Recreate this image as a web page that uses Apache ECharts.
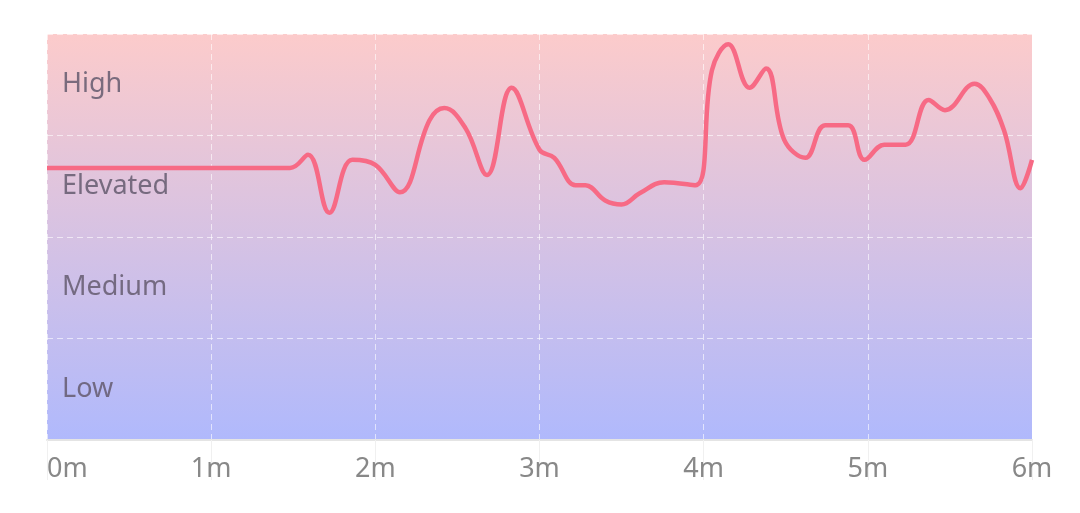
<!DOCTYPE html>
<html>
<head>
<meta charset="utf-8">
<script src="https://cdn.jsdelivr.net/npm/echarts@6/dist/echarts.min.js"></script>
<style>html,body{margin:0;background:#fff}#main{width:1080px;height:513px}</style>
</head>
<body>
<div id="main"></div>
<script>
// levels shown on the left, bottom to top
var levels = ['Low', 'Medium', 'Elevated', 'High'];
var xTicks = ['0m', '1m', '2m', '3m', '4m', '5m', '6m'];
// time in minutes
var minutes = [0, 1.48, 1.59, 1.72, 1.86, 2.00, 2.15, 2.33, 2.42, 2.55, 2.68, 2.83, 3.00, 3.09, 3.22, 3.28, 3.40, 3.50, 3.61, 3.76, 3.95, 4.05, 4.15, 4.28, 4.38, 4.49, 4.62, 4.74, 4.88, 4.98, 5.10, 5.23, 5.37, 5.47, 5.65, 5.74, 5.83, 5.93, 6.00];
// stress level (0..4)
var level = [2.68, 2.68, 2.81, 2.24, 2.76, 2.71, 2.44, 3.15, 3.27, 3.07, 2.61, 3.47, 2.86, 2.78, 2.51, 2.51, 2.36, 2.32, 2.43, 2.54, 2.51, 3.64, 3.90, 3.47, 3.66, 2.96, 2.78, 3.10, 3.10, 2.76, 2.91, 2.91, 3.35, 3.25, 3.51, 3.37, 3.05, 2.48, 2.76];

var points = [];
for (var i = 0; i < minutes.length; i++) points.push([minutes[i], level[i]]);

var myChart = echarts.init(document.getElementById('main'));
var option = {
    animation: false,
    grid: {
        left: 47, right: 48, top: 34, bottom: 73,
        show: true, borderWidth: 0,
        backgroundColor: new echarts.graphic.LinearGradient(0, 0, 0, 1, [
            {offset: 0, color: '#fccbcb'},
            {offset: 1, color: '#b0b9fc'}
        ])
    },
    xAxis: {
        type: 'value', min: 0, max: 6, interval: 1,
        axisLine: {show: true, lineStyle: {color: '#e4e4e4', width: 2}},
        axisTick: {show: true, length: 40, lineStyle: {color: '#f0f0f0'}},
        axisLabel: {
            color: '#888', fontSize: 27, margin: 16, fontFamily: 'Noto Sans',
            alignMinLabel: 'left',
            formatter: function (v) { return xTicks[v]; }
        },
        splitLine: {show: true, lineStyle: {color: 'rgba(255,255,255,0.6)', type: [6, 4]}}
    },
    yAxis: [{
        type: 'value', min: 0, max: 4, interval: 1,
        axisLine: {show: false}, axisTick: {show: false}, axisLabel: {show: false},
        splitLine: {show: true, lineStyle: {color: 'rgba(255,255,255,0.6)', type: [6, 4]}}
    }, {
        type: 'category', data: levels, position: 'left', boundaryGap: true,
        axisLine: {show: false}, axisTick: {show: false}, splitLine: {show: false},
        axisLabel: {inside: true, margin: 15, color: 'rgba(100,90,110,0.85)', fontSize: 27, fontFamily: 'Noto Sans'}
    }],
    series: [{
        type: 'line', data: points, smooth: 0.4, symbol: 'none',
        lineStyle: {color: '#f76a85', width: 4.5}
    }]
};
myChart.setOption(option);
</script>
</body>
</html>
